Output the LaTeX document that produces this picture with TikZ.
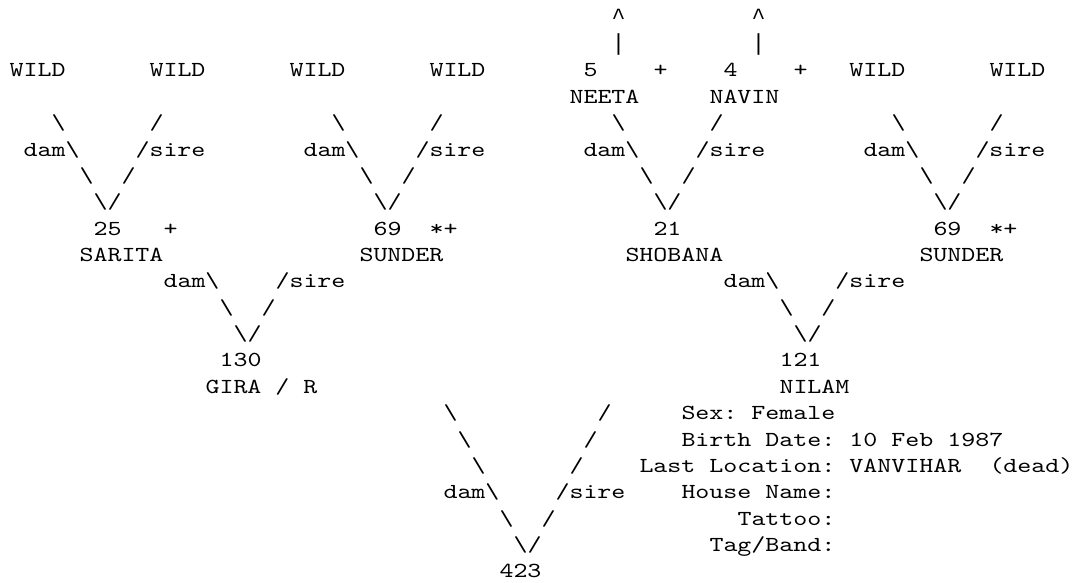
\documentclass[tikz,border=0pt]{standalone}
\usepackage{fontspec}
\newfontfamily\gridfont[FakeStretch=1.246]{Latin Modern Mono}
\newfontfamily\markfont{Liberation Mono}
\frenchspacing
\tikzset{
  cell/.style={anchor=base west,inner sep=0pt,outer sep=0pt,text=black,font=\gridfont\fontsize{10.7}{12}\selectfont},
  markcell/.style={cell,font=\markfont\fontsize{11.6}{12}\selectfont},
}
\newcommand{\bs}{\textbackslash}
\begin{document}
\begin{tikzpicture}[x=7pt,y=-13.18pt]
\fill[white] (-0.679,-0.920) rectangle (76.18,21.196);
\useasboundingbox (-0.679,-0.920) rectangle (76.18,21.196);
% arrows above the two known parents
\node[markcell] (upn) at (43,0) {\textasciicircum}; \node[markcell] (upv) at (53,0) {\textasciicircum};
\node[markcell] (bn) at (43,1) {|}; \node[markcell] (bv) at (53,1) {|};
% grandparents
\foreach \c/\k in {0/a,10/b,20/c,30/d,60/e,70/f}
  \node[cell] (wild\k) at (\c,2) {WILD};
\node[cell] (n5) at (41,2) {5}; \node[cell] (pl5) at (46,2) {+};
\node[cell] (n4) at (51,2) {4}; \node[cell] (pl4) at (56,2) {+};
\node[cell] (neeta) at (40,3) {NEETA}; \node[cell] (navin) at (50,3) {NAVIN};
\foreach \p/\k in {0/a,20/b,40/c,60/d}{
  \node[cell] (ua\k) at (\p+3,4) {\bs}; \node[cell] (va\k) at (\p+10,4) {/};
  \node[cell] (dam\k) at (\p+1,5) {dam\bs}; \node[cell] (sire\k) at (\p+9,5) {/sire};
  \node[cell] (ub\k) at (\p+5,6) {\bs}; \node[cell] (vb\k) at (\p+8,6) {/};
  \node[cell] (v\k) at (\p+6,7) {\bs/};
}
% parents
\node[cell] (n25) at (6,8) {25}; \node[cell] (pl25) at (11,8) {+};
\node[cell] (n69a) at (26,8) {69}; \node[cell] (pl69a) at (30,8) {*+};
\node[cell] (n21) at (46,8) {21};
\node[cell] (n69b) at (66,8) {69}; \node[cell] (pl69b) at (70,8) {*+};
\node[cell] (sarita) at (5,9) {SARITA}; \node[cell] (sundera) at (25,9) {SUNDER};
\node[cell] (shobana) at (44,9) {SHOBANA}; \node[cell] (sunderb) at (65,9) {SUNDER};
\foreach \s/\k in {16/g,56/n}{
  \node[cell] (dam\k) at (\s-5,10) {dam\bs}; \node[cell] (sire\k) at (\s+3,10) {/sire};
  \node[cell] (ua\k) at (\s-1,11) {\bs}; \node[cell] (va\k) at (\s+2,11) {/};
  \node[cell] (v\k) at (\s,12) {\bs/};
}
\node[cell] (n130) at (15,13) {130}; \node[cell] (n121) at (55,13) {121};
\node[cell] (gira) at (14,14) {GIRA / R}; \node[cell] (nilam) at (55,14) {NILAM};
% the animal itself
\foreach \i in {0,1,2}{
  \node[cell] (ud\i) at (31+\i,15+\i) {\bs}; \node[cell] (vd\i) at (42-\i,15+\i) {/};
}
\node[cell] (damx) at (31,18) {dam\bs}; \node[cell] (sirex) at (39,18) {/sire};
\node[cell] (ux) at (35,19) {\bs}; \node[cell] (vx) at (38,19) {/};
\node[cell] (vvx) at (36,20) {\bs/};
\node[cell] (n423) at (35,21) {423};
% record of NILAM
\node[cell] (sex) at (48,15) {Sex: Female};
\node[cell] (birth) at (48,16) {Birth Date: 10 Feb 1987};
\node[cell] (loc) at (45,17) {Last Location: VANVIHAR};
\node[cell] (dead) at (70,17) {(dead)};
\node[cell] (house) at (48,18) {House Name:};
\node[cell] (tattoo) at (52,19) {Tattoo:};
\node[cell] (tag) at (50,20) {Tag/Band:};
\end{tikzpicture}
\end{document}
